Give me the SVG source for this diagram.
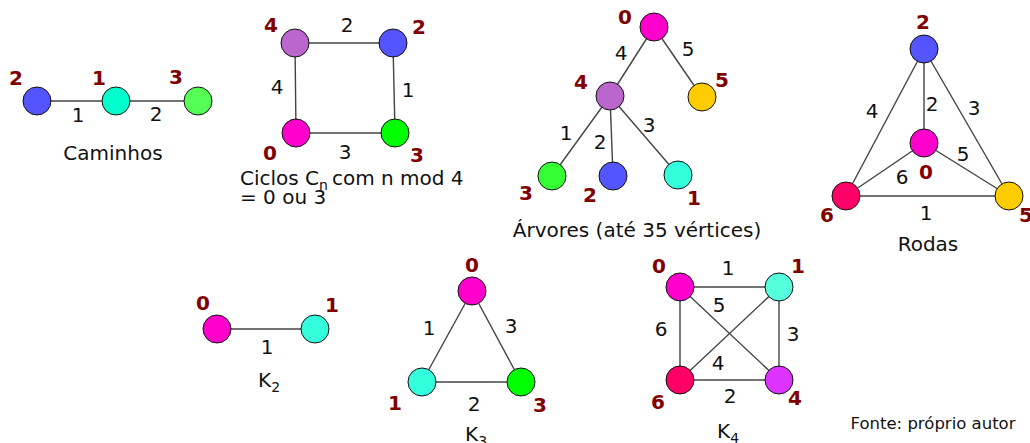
<svg xmlns="http://www.w3.org/2000/svg" width="1030" height="443" viewBox="0 0 1030 443">
<style>
text{font-family:"DejaVu Sans",Verdana,sans-serif;fill:#111}
.e{font-size:20px;text-anchor:middle}
.n{font-size:20px;font-weight:bold;fill:#800000;text-anchor:middle}
.c{font-size:20px;text-anchor:middle}
.t{font-size:20px}
.s{font-size:14px}
circle{stroke:#111;stroke-width:1}
#connectors line{stroke:#444;stroke-width:1.4}
</style>
<rect width="1030" height="443" fill="#fff"/>
<g id="connectors">
<line x1="37" y1="101" x2="116" y2="101"/>
<line x1="116" y1="101" x2="198" y2="101"/>
<line x1="295" y1="43" x2="393" y2="43"/>
<line x1="393" y1="43" x2="395" y2="133"/>
<line x1="296" y1="133" x2="395" y2="133"/>
<line x1="295" y1="43" x2="296" y2="133"/>
<line x1="654" y1="27" x2="610" y2="96"/>
<line x1="654" y1="27" x2="702" y2="97"/>
<line x1="610" y1="96" x2="552" y2="176"/>
<line x1="610" y1="96" x2="613" y2="176"/>
<line x1="610" y1="96" x2="678" y2="175"/>
<line x1="924" y1="49" x2="924" y2="143"/>
<line x1="924" y1="49" x2="846" y2="196"/>
<line x1="924" y1="49" x2="1009" y2="196"/>
<line x1="924" y1="143" x2="846" y2="196"/>
<line x1="924" y1="143" x2="1009" y2="196"/>
<line x1="846" y1="196" x2="1009" y2="196"/>
<line x1="217" y1="329" x2="315" y2="329"/>
<line x1="472" y1="291" x2="422" y2="382"/>
<line x1="472" y1="291" x2="521" y2="382"/>
<line x1="422" y1="382" x2="521" y2="382"/>
<line x1="680" y1="287" x2="779" y2="287"/>
<line x1="680" y1="287" x2="680" y2="380"/>
<line x1="680" y1="287" x2="779" y2="380"/>
<line x1="779" y1="287" x2="680" y2="380"/>
<line x1="779" y1="287" x2="779" y2="380"/>
<line x1="680" y1="380" x2="779" y2="380"/>
</g>
<g id="edge-labels">
<text class="e" x="78" y="122">1</text>
<text class="e" x="156" y="121">2</text>
<text class="e" x="347" y="32">2</text>
<text class="e" x="277" y="94">4</text>
<text class="e" x="408" y="97">1</text>
<text class="e" x="345" y="159">3</text>
<text class="e" x="621" y="60">4</text>
<text class="e" x="688" y="56">5</text>
<text class="e" x="566" y="140">1</text>
<text class="e" x="600" y="149">2</text>
<text class="e" x="649" y="132">3</text>
<text class="e" x="872" y="118">4</text>
<text class="e" x="932" y="111">2</text>
<text class="e" x="974" y="115">3</text>
<text class="e" x="963" y="161">5</text>
<text class="e" x="902" y="184">6</text>
<text class="e" x="926" y="220">1</text>
<text class="e" x="267" y="354">1</text>
<text class="e" x="429" y="335">1</text>
<text class="e" x="511" y="333">3</text>
<text class="e" x="474" y="411">2</text>
<text class="e" x="728" y="275">1</text>
<text class="e" x="719" y="312">5</text>
<text class="e" x="661" y="336">6</text>
<text class="e" x="793" y="341">3</text>
<text class="e" x="718" y="370">4</text>
<text class="e" x="730" y="403">2</text>
</g>
<g id="path">
<circle cx="37" cy="101" r="14" fill="#5555FF"/><text class="n" x="16" y="85">2</text>
<circle cx="116" cy="101" r="14" fill="#00FFCC"/><text class="n" x="99" y="85">1</text>
<circle cx="198" cy="101" r="14" fill="#55FF55"/><text class="n" x="176" y="84">3</text>
<text class="c" x="113" y="160">Caminhos</text>
</g>
<g id="cycle">
<circle cx="295" cy="43" r="14" fill="#BB66CC"/><text class="n" x="271" y="32">4</text>
<circle cx="393" cy="43" r="14" fill="#5555FF"/><text class="n" x="419" y="34">2</text>
<circle cx="296" cy="133" r="14" fill="#FF00CC"/><text class="n" x="270" y="160">0</text>
<circle cx="395" cy="133" r="14" fill="#00FF00"/><text class="n" x="417" y="162">3</text>
<text class="t" x="240" y="185">Ciclos C<tspan class="s" dy="5">n</tspan><tspan dx="4" dy="-5">com n mod 4</tspan></text>
<text class="t" x="240" y="204">= 0 ou 3</text>
</g>
<g id="tree">
<circle cx="654" cy="27" r="14" fill="#FF00CC"/><text class="n" x="625" y="24">0</text>
<circle cx="610" cy="96" r="14" fill="#BB66CC"/><text class="n" x="581" y="89">4</text>
<circle cx="702" cy="97" r="14" fill="#FFCC00"/><text class="n" x="722" y="87">5</text>
<circle cx="552" cy="176" r="14" fill="#33FF33"/><text class="n" x="526" y="200">3</text>
<circle cx="613" cy="176" r="14" fill="#5555FF"/><text class="n" x="590" y="202">2</text>
<circle cx="678" cy="175" r="14" fill="#33FFDD"/><text class="n" x="694" y="205">1</text>
<text class="c" x="637" y="237">Árvores (até 35 vértices)</text>
</g>
<g id="wheel">
<circle cx="924" cy="49" r="14" fill="#5555FF"/><text class="n" x="923" y="29">2</text>
<circle cx="924" cy="143" r="14" fill="#FF00CC"/><text class="n" x="926" y="179">0</text>
<circle cx="846" cy="196" r="14" fill="#FF0066"/><text class="n" x="827" y="222">6</text>
<circle cx="1009" cy="196" r="14" fill="#FFCC00"/><text class="n" x="1026" y="222">5</text>
<text class="c" x="928" y="251">Rodas</text>
</g>
<g id="k2">
<circle cx="217" cy="329" r="14" fill="#FF00CC"/><text class="n" x="203" y="310">0</text>
<circle cx="315" cy="329" r="14" fill="#33FFDD"/><text class="n" x="332" y="312">1</text>
<text class="t" x="258" y="387">K<tspan class="s" dy="5">2</tspan></text>
</g>
<g id="k3">
<circle cx="472" cy="291" r="14" fill="#FF00CC"/><text class="n" x="472" y="272">0</text>
<circle cx="422" cy="382" r="14" fill="#33FFDD"/><text class="n" x="395" y="410">1</text>
<circle cx="521" cy="382" r="14" fill="#00FF00"/><text class="n" x="540" y="412">3</text>
<text class="t" x="465" y="441">K<tspan class="s" dy="5">3</tspan></text>
</g>
<g id="k4">
<circle cx="680" cy="287" r="14" fill="#FF00CC"/><text class="n" x="659" y="273">0</text>
<circle cx="779" cy="287" r="14" fill="#55FFDD"/><text class="n" x="798" y="273">1</text>
<circle cx="680" cy="380" r="14" fill="#FF0066"/><text class="n" x="658" y="409">6</text>
<circle cx="779" cy="380" r="14" fill="#DD33FF"/><text class="n" x="795" y="405">4</text>
<text class="t" x="717" y="438">K<tspan class="s" dy="5">4</tspan></text>
</g>
<g id="footer">
<text x="933" y="429" style="font-size:16.5px;text-anchor:middle">Fonte: próprio autor</text>
</g>
</svg>
